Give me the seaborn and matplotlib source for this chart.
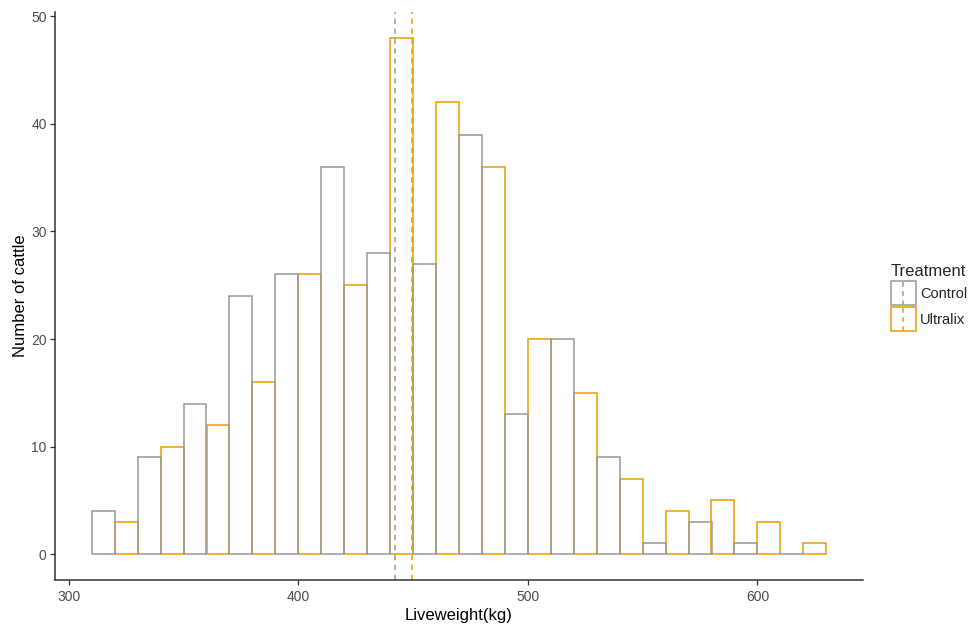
import matplotlib
matplotlib.use("Agg")
import matplotlib.pyplot as plt
import pandas as pd
import seaborn as sns
from matplotlib.legend_handler import HandlerBase
from matplotlib.patches import Rectangle, Patch
from matplotlib.lines import Line2D

# Liveweight bins (20 kg wide, labelled by centre) and cattle counts per treatment
bin_centers = [320, 340, 360, 380, 400, 420, 440, 460, 480, 500, 520, 540, 560, 580, 600, 620]
control_counts = [4, 9, 14, 24, 26, 36, 28, 27, 39, 13, 20, 9, 1, 3, 1, 0]
ultralix_counts = [3, 10, 12, 16, 26, 25, 48, 42, 36, 20, 15, 7, 4, 5, 3, 1]
treatments = ["Control", "Ultralix"]
treatment_colors = ["#999999", "#E69F00"]
mean_liveweights = [442.3, 449.7]

df = pd.DataFrame({
    "Liveweight": bin_centers + bin_centers,
    "count": control_counts + ultralix_counts,
    "Treatment": [treatments[0]] * len(bin_centers) + [treatments[1]] * len(bin_centers),
})

sns.set_theme(style="ticks")
plt.rcParams["font.family"] = ["Liberation Sans", "DejaVu Sans"]

fig = plt.figure(figsize=(9.74, 6.32), dpi=100)
ax = fig.add_axes([55 / 974, 52 / 632, 808 / 974, 568 / 632])

sns.histplot(
    data=df, x="Liveweight", weights="count", hue="Treatment",
    hue_order=treatments, palette=treatment_colors,
    binwidth=20, binrange=(310, 630), multiple="dodge", shrink=1,
    fill=False, linewidth=1.1, legend=False, ax=ax,
)

for m, c in zip(mean_liveweights, treatment_colors):
    ax.axvline(m, color=c, linestyle=(0, (3.5, 3)), linewidth=1.1)

ax.set_xlim(294, 646)
ax.set_ylim(-2.4, 50.4)
ax.set_xticks([300, 400, 500, 600])
ax.set_yticks([0, 10, 20, 30, 40, 50])
ax.set_xlabel("Liveweight(kg)", fontsize=12, color="black", labelpad=3)
ax.set_ylabel("Number of cattle", fontsize=12, color="black", labelpad=2)
ax.tick_params(direction="out", length=3.5, width=0.9, color="#333333",
               labelcolor="#4D4D4D", labelsize=10)
ax.tick_params(axis="x", pad=3.5)
ax.tick_params(axis="y", pad=2.5)
sns.despine(ax=ax)
for side in ("left", "bottom"):
    ax.spines[side].set_color("#333333")
    ax.spines[side].set_linewidth(1.1)


class BoxWithMeanLine(HandlerBase):
    """Legend key: outlined box with a dashed vertical mean line."""

    def create_artists(self, legend, orig_handle, xdescent, ydescent,
                       width, height, fontsize, trans):
        color = orig_handle.get_edgecolor()
        rect = Rectangle((-xdescent, -ydescent), width, height,
                         facecolor="white", edgecolor=color, linewidth=1.1,
                         transform=trans)
        xm = -xdescent + width / 2
        line = Line2D([xm, xm], [-ydescent, -ydescent + height], color=color,
                      linestyle=(0, (3, 3)), linewidth=1.1, transform=trans)
        return [rect, line]


handles = [Patch(facecolor="white", edgecolor=c) for c in treatment_colors]
leg = fig.legend(
    handles, treatments, title="Treatment",
    handler_map={Patch: BoxWithMeanLine()},
    loc="upper left", bbox_to_anchor=(888 / 974, 1 - 261 / 632),
    frameon=False, fontsize=10.5, title_fontsize=12,
    handlelength=1.7, handleheight=2.15, labelspacing=0.15,
    handletextpad=0.3, borderaxespad=0, borderpad=0.2,
)
leg._legend_box.align = "left"

fig.savefig("out.png", dpi=100)
